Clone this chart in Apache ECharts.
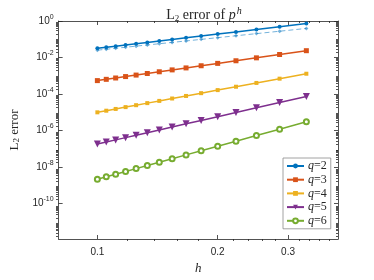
<!DOCTYPE html>
<html>
<head>
<meta charset="utf-8">
<script src="https://cdn.jsdelivr.net/npm/echarts@6/dist/echarts.min.js"></script>
<style>html,body{margin:0;padding:0;background:#fff}#c{width:374px;height:280px}</style>
</head>
<body>
<div id="c"></div>
<script>
// h = 2/N, N = 20..6
const hValues = [0.1, 0.10526, 0.11111, 0.11765, 0.125, 0.13333, 0.14286, 0.15385, 0.16667, 0.18182, 0.2, 0.22222, 0.25, 0.28571, 0.33333];
const seriesNames = ['q=2', 'q=3', 'q=4', 'q=5', 'q=6'];
const errQ2 = [0.0316, 0.0361, 0.0416, 0.0483, 0.0565, 0.0668, 0.0800, 0.0969, 0.119, 0.150, 0.192, 0.252, 0.343, 0.484, 0.724];
const errQ2ref = [0.0251, 0.0282, 0.0319, 0.0364, 0.0418, 0.0484, 0.0566, 0.0671, 0.0805, 0.0982, 0.122, 0.155, 0.203, 0.275, 0.391];
const errQ3 = [5.37e-4, 6.31e-4, 7.48e-4, 8.95e-4, 1.08e-3, 1.32e-3, 1.64e-3, 2.08e-3, 2.67e-3, 3.51e-3, 4.73e-3, 6.59e-3, 9.53e-3, 1.45e-2, 2.35e-2];
const errQ4 = [9.77e-6, 1.20e-5, 1.50e-5, 1.89e-5, 2.41e-5, 3.13e-5, 4.14e-5, 5.60e-5, 7.73e-5, 1.10e-4, 1.62e-4, 2.48e-4, 4.00e-4, 6.86e-4, 1.28e-3];
const errQ5 = [1.78e-7, 2.30e-7, 3.01e-7, 4.00e-7, 5.42e-7, 7.47e-7, 1.05e-6, 1.53e-6, 2.28e-6, 3.51e-6, 5.65e-6, 9.57e-6, 1.72e-5, 3.35e-5, 7.23e-5];
const errQ6 = [2.09e-9, 2.84e-9, 3.94e-9, 5.56e-9, 8.00e-9, 1.18e-8, 1.79e-8, 2.79e-8, 4.52e-8, 7.64e-8, 1.36e-7, 2.56e-7, 5.19e-7, 1.16e-6, 2.94e-6];
const xTickLabels = [0.1, 0.2, 0.3];
const xMinorTicks = [0.12, 0.14, 0.16, 0.18, 0.22, 0.24, 0.26, 0.28, 0.32, 0.34, 0.36, 0.38];
const yTickLabels = [1, 1e-2, 1e-4, 1e-6, 1e-8, 1e-10];
const yMinorTicks = [];
for (let k = -12; k <= -1; k++) {
  for (let m = 1; m <= 9; m++) {
    const v = Number((m * Math.pow(10, k)).toPrecision(3));
    if (m === 1 && k % 2 === 0) continue;
    yMinorTicks.push(v);
  }
}

const AX = '#262626';
const colors = ['#0072BD', '#D95319', '#EDB120', '#7E2F8E', '#77AC30'];
const gridRect = { left: 56, right: 36, top: 21, bottom: 39 };
const X_MIN = 0.08, X_MAX = 0.4, Y_MIN = 1.1e-12, Y_MAX = 1;

function pairs(ys) { return hValues.map((h, i) => [h, ys[i]]); }

function xAx(gridIndex, pos, ticks, len, labels) {
  return {
    type: 'log', gridIndex, position: pos, min: X_MIN, max: X_MAX,
    axisLine: { show: gridIndex === 0, lineStyle: { color: AX, width: 0.8 } },
    axisTick: { show: true, inside: true, length: len, customValues: ticks, lineStyle: { color: AX, width: 0.8 } },
    axisLabel: labels ? { show: true, customValues: ticks, margin: 8, color: AX, fontSize: 10, fontFamily: 'Liberation Sans', formatter: v => String(Number(v.toPrecision(2))) } : { show: false },
    splitLine: { show: false }, minorTick: { show: false }
  };
}
function yAx(gridIndex, pos, ticks, len, labels) {
  return {
    type: 'log', gridIndex, position: pos, min: Y_MIN, max: Y_MAX,
    axisLine: { show: gridIndex === 0, lineStyle: { color: AX, width: 0.8 } },
    axisTick: { show: true, inside: true, length: len, customValues: ticks, lineStyle: { color: AX, width: 0.8 } },
    axisLabel: labels ? {
      show: true, customValues: ticks, margin: 5, color: AX, fontSize: 10, fontFamily: 'Liberation Sans',
      formatter: v => '{b|10}{s|' + Math.round(Math.log10(v)) + '}',
      rich: { b: { fontSize: 10, color: AX, fontFamily: 'Liberation Sans' }, s: { fontSize: 7, color: AX, fontFamily: 'Liberation Sans', padding: [0, 0, 8, 0] } }
    } : { show: false },
    splitLine: { show: false }, minorTick: { show: false }
  };
}

const xAxes = [
  Object.assign(xAx(0, 'bottom', xTickLabels, 4, true), {
    name: 'h', nameLocation: 'middle', nameGap: 23,
    nameTextStyle: { fontFamily: 'Liberation Serif', fontStyle: 'italic', fontSize: 13, color: AX }
  }),
  xAx(0, 'top', xTickLabels, 4, false),
  xAx(1, 'bottom', xMinorTicks, 2, false),
  xAx(1, 'top', xMinorTicks, 2, false)
];
const yAxes = [
  Object.assign(yAx(0, 'left', yTickLabels, 4, true), {
    name: '{n|L}{sub|2}{n| error}', nameLocation: 'middle', nameGap: 37, nameRotate: 90,
    nameTextStyle: {
      rich: {
        n: { fontFamily: 'Liberation Serif', fontSize: 13, color: AX },
        sub: { fontFamily: 'Liberation Serif', fontSize: 9, color: AX, padding: [5, 0, 0, 0] }
      }
    }
  }),
  yAx(0, 'right', yTickLabels, 4, false),
  yAx(1, 'left', yMinorTicks, 2, false),
  yAx(1, 'right', yMinorTicks, 2, false)
];

function lineSeries(name, data, color, symbol, size, extra) {
  return Object.assign({
    name, type: 'line', xAxisIndex: 0, yAxisIndex: 0, data: pairs(data),
    symbol, symbolSize: size, showSymbol: true,
    lineStyle: { color, width: 1.5 }, itemStyle: { color },
    emphasis: { disabled: true }, animation: false
  }, extra || {});
}

const option = {
  animation: false,
  title: {
    text: '{n|L}{sub|2}{n| error of }{i|p}{sup|h}',
    left: 199, textAlign: 'center', top: 1,
    textStyle: {
      fontWeight: 'normal',
      rich: {
        n: { fontFamily: 'Liberation Serif', fontWeight: 'normal', fontSize: 14, color: AX },
        i: { fontFamily: 'Liberation Serif', fontWeight: 'normal', fontStyle: 'italic', fontSize: 14, color: AX },
        sub: { fontFamily: 'Liberation Serif', fontWeight: 'normal', fontSize: 9, color: AX, padding: [6, 0, 0, 0] },
        sup: { fontFamily: 'Liberation Serif', fontWeight: 'normal', fontStyle: 'italic', fontSize: 10, color: AX, padding: [0, 0, 9, 1] }
      }
    }
  },
  legend: {
    data: seriesNames, orient: 'vertical', left: 283, top: 158,
    padding: [2, 4, 2, 3], itemGap: 1.7, itemWidth: 17, itemHeight: 6,
    backgroundColor: '#fff', borderColor: '#8a8a8a', borderWidth: 0.8, borderRadius: 0,
    formatter: n => '{i|q}{r|=' + n.slice(2) + '}',
    textStyle: {
      padding: [0, 0, 0, -1],
      rich: {
        i: { fontFamily: 'Liberation Serif', fontStyle: 'italic', fontSize: 12, lineHeight: 13, color: AX },
        r: { fontFamily: 'Liberation Serif', fontSize: 12, lineHeight: 13, color: AX }
      }
    }
  },
  grid: [Object.assign({}, gridRect), Object.assign({}, gridRect)],
  xAxis: xAxes,
  yAxis: yAxes,
  series: [
    lineSeries('q=2 ref', errQ2ref, 'rgba(0,114,189,0.55)', 'diamond', 4, { lineStyle: { color: 'rgba(0,114,189,0.55)', width: 1, type: [5, 3] }, z: 1 }),
    lineSeries('q=2', errQ2, colors[0], 'circle', 4),
    lineSeries('q=3', errQ3, colors[1], 'rect', 5),
    lineSeries('q=4', errQ4, colors[2], 'rect', 4),
    lineSeries('q=5', errQ5, colors[3], 'triangle', 7, { symbolRotate: 180 }),
    lineSeries('q=6', errQ6, colors[4], 'emptyCircle', 5, { itemStyle: { color: colors[4], borderWidth: 1.3 } })
  ]
};
const chart = echarts.init(document.getElementById('c'), null, { renderer: 'canvas' });
chart.setOption(option);
</script>
</body>
</html>
